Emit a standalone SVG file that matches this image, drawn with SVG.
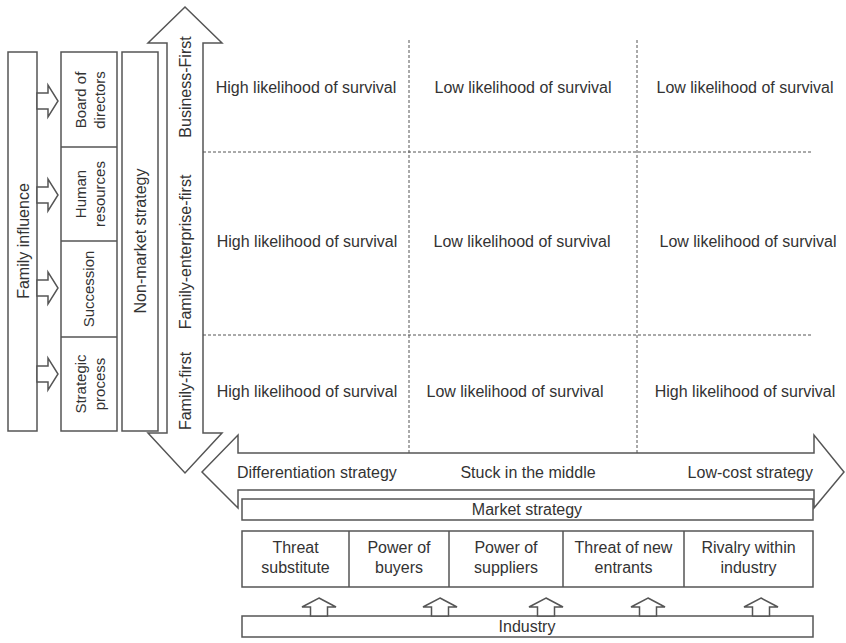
<svg xmlns="http://www.w3.org/2000/svg" width="846" height="643" viewBox="0 0 846 643">
<style>
  .box { fill: #ffffff; stroke: #555555; stroke-width: 1.5; }
  .arr { fill: #ffffff; stroke: #555555; stroke-width: 1.5; stroke-linejoin: miter; }
  .dash { fill: none; stroke: #555555; stroke-width: 1; stroke-dasharray: 3 2; }
  text { font-family: "Liberation Sans", Arial, sans-serif; fill: #333333; }
  .t16 { font-size: 16px; }
  .t15 { font-size: 15px; }
  .mid { text-anchor: middle; }
</style>
<rect width="846" height="643" fill="#ffffff"/>

<!-- Left: family influence -->
<g id="family-influence">
  <rect class="box" x="8" y="52" width="29" height="379"/>
  <text class="t16 mid" transform="translate(22.5,241) rotate(-90)" y="6">Family influence</text>
</g>

<g id="family-levers">
  <rect class="box" x="61" y="52" width="56" height="379"/>
  <line class="box" x1="61" y1="147" x2="117" y2="147"/>
  <line class="box" x1="61" y1="241" x2="117" y2="241"/>
  <line class="box" x1="61" y1="337" x2="117" y2="337"/>
</g>
<g id="board-of-directors">
  <text class="t15 mid" transform="translate(89,100) rotate(-90)"><tspan x="0" y="-3">Board of</tspan><tspan x="0" y="16">directors</tspan></text>
</g>
<g id="human-resources">
  <text class="t15 mid" transform="translate(89,194) rotate(-90)"><tspan x="0" y="-3">Human</tspan><tspan x="0" y="16">resources</tspan></text>
</g>
<g id="succession">
  <text class="t15 mid" transform="translate(89,289) rotate(-90)" y="5">Succession</text>
</g>
<g id="strategic-process">
  <text class="t15 mid" transform="translate(89,384) rotate(-90)"><tspan x="0" y="-3">Strategic</tspan><tspan x="0" y="16">process</tspan></text>
</g>

<g id="non-market-strategy">
  <rect class="box" x="122" y="52" width="36" height="379"/>
  <text class="t16 mid" transform="translate(140,241) rotate(-90)" y="6">Non-market strategy</text>
</g>

<!-- Vertical axis arrow -->
<g id="vertical-axis">
  <polygon class="arr" points="185,7 222,43 203,43 203,433 222,433 185,473 148,433 167,433 167,43 148,43"/>
  <text class="t16 mid" transform="translate(185,87) rotate(-90)" y="6">Business-First</text>
  <text class="t16 mid" transform="translate(185,252) rotate(-90)" y="6">Family-enterprise-first</text>
  <text class="t16 mid" transform="translate(185,391) rotate(-90)" y="6">Family-first</text>
</g>

<!-- Grid -->
<g id="grid">
  <line class="dash" x1="409" y1="40" x2="409" y2="453"/>
  <line class="dash" x1="637" y1="40" x2="637" y2="453"/>
  <line class="dash" x1="203" y1="152" x2="812" y2="152"/>
  <line class="dash" x1="203" y1="335" x2="812" y2="335"/>
</g>
<g id="cells">
  <text class="t16 mid" x="306" y="93">High likelihood of survival</text>
  <text class="t16 mid" x="523" y="93">Low likelihood of survival</text>
  <text class="t16 mid" x="745" y="93">Low likelihood of survival</text>
  <text class="t16 mid" x="307" y="247">High likelihood of survival</text>
  <text class="t16 mid" x="522" y="247">Low likelihood of survival</text>
  <text class="t16 mid" x="748" y="247">Low likelihood of survival</text>
  <text class="t16 mid" x="307" y="397">High likelihood of survival</text>
  <text class="t16 mid" x="515" y="397">Low likelihood of survival</text>
  <text class="t16 mid" x="745" y="397">High likelihood of survival</text>
</g>

<!-- Horizontal axis arrow -->
<g id="horizontal-axis">
  <polygon class="arr" points="202,472 238,435 238,453 814,453 814,435 844,472 814,508 814,490 238,490 238,508"/>
  <text class="t16" x="237" y="478">Differentiation strategy</text>
  <text class="t16 mid" x="528" y="478">Stuck in the middle</text>
  <text class="t16" x="813" y="478" text-anchor="end">Low-cost strategy</text>
</g>

<g id="market-strategy">
  <rect class="box" x="242" y="499" width="571" height="21"/>
  <text class="t16 mid" x="527" y="515">Market strategy</text>
</g>

<g id="forces">
  <rect class="box" x="242" y="531" width="571" height="56"/>
  <line class="box" x1="349" y1="531" x2="349" y2="587"/>
  <line class="box" x1="449" y1="531" x2="449" y2="587"/>
  <line class="box" x1="563" y1="531" x2="563" y2="587"/>
  <line class="box" x1="684" y1="531" x2="684" y2="587"/>
</g>
<g id="threat-substitute"><text class="t16 mid" x="295.5" y="553"><tspan x="295.5">Threat</tspan><tspan x="295.5" dy="20">substitute</tspan></text></g>
<g id="power-of-buyers"><text class="t16 mid" x="399" y="553"><tspan x="399">Power of</tspan><tspan x="399" dy="20">buyers</tspan></text></g>
<g id="power-of-suppliers"><text class="t16 mid" x="506" y="553"><tspan x="506">Power of</tspan><tspan x="506" dy="20">suppliers</tspan></text></g>
<g id="threat-of-new-entrants"><text class="t16 mid" x="623.5" y="553"><tspan x="623.5">Threat of new</tspan><tspan x="623.5" dy="20">entrants</tspan></text></g>
<g id="rivalry-within-industry"><text class="t16 mid" x="748.5" y="553"><tspan x="748.5">Rivalry  within</tspan><tspan x="748.5" dy="20">industry</tspan></text></g>

<g id="industry">
  <rect class="box" x="242" y="616" width="571" height="21"/>
  <text class="t16 mid" x="527" y="632">Industry</text>
</g>

<!-- Connectors -->
<g id="connectors">
  <polygon class="arr" points="37,93 48,93 48,85 58,101 48,117 48,109 37,109"/>
  <polygon class="arr" points="37,187 48,187 48,179 58,195 48,211 48,203 37,203"/>
  <polygon class="arr" points="37,280 48,280 48,272 58,288 48,304 48,296 37,296"/>
  <polygon class="arr" points="37,366 48,366 48,358 58,374 48,390 48,382 37,382"/>

  <polygon class="arr" points="319,598 336,607 327.5,607 327.5,616 310.5,616 310.5,607 302,607"/>
  <polygon class="arr" points="440,598 457,607 448.5,607 448.5,616 431.5,616 431.5,607 423,607"/>
  <polygon class="arr" points="546,598 563,607 554.5,607 554.5,616 537.5,616 537.5,607 529,607"/>
  <polygon class="arr" points="648,598 665,607 656.5,607 656.5,616 639.5,616 639.5,607 631,607"/>
  <polygon class="arr" points="761,598 778,607 769.5,607 769.5,616 752.5,616 752.5,607 744,607"/>
</g>
</svg>
